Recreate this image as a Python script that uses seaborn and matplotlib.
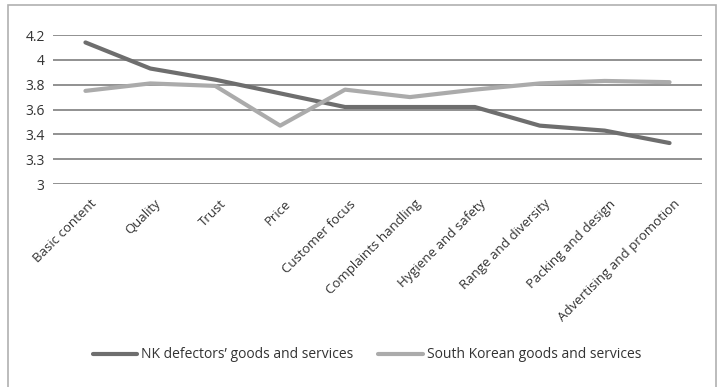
import matplotlib
matplotlib.use("Agg")
import matplotlib.pyplot as plt
import matplotlib.transforms as mtransforms
import seaborn as sns
import pandas as pd
from matplotlib.patches import Rectangle

categories = ["Basic content", "Quality", "Trust", "Price", "Customer focus",
              "Complaints handling", "Hygiene and safety", "Range and diversity",
              "Packing and design", "Advertising and promotion"]
nk_values = [4.14, 3.93, 3.84, 3.73, 3.62, 3.62, 3.62, 3.47, 3.43, 3.33]
sk_values = [3.75, 3.81, 3.79, 3.47, 3.76, 3.70, 3.76, 3.81, 3.83, 3.82]
series_names = ["NK defectors\u2019 goods and services", "South Korean goods and services"]
y_ticks = [3.0, 3.2, 3.4, 3.6, 3.8, 4.0, 4.2]
y_tick_labels = ["3", "3.3", "3.4", "3.6", "3.8", "4", "4.2"]

sns.set_theme(style="white")
plt.rcParams['font.family'] = ['Open Sans', 'DejaVu Sans']

df = pd.DataFrame({
    "cat": categories * 2,
    "x": list(range(len(categories))) * 2,
    "value": nk_values + sk_values,
    "series": [series_names[0]] * len(categories) + [series_names[1]] * len(categories),
})

fig = plt.figure(figsize=(7.18, 3.87), dpi=100)
ax = fig.add_axes([53/718, 1-184/387, (702-53)/718, (184-35)/387])

sns.lineplot(data=df, x="x", y="value", hue="series", ax=ax,
             palette=["#6e6e6e", "#ababab"], linewidth=3.0, legend=True,
             sort=False)

ax.set_xlim(-0.5, len(categories) - 0.5)
ax.set_ylim(3.0, 4.2)
ax.set_yticks(y_ticks)
ax.set_yticklabels(y_tick_labels, fontsize=10, color="#333333")
ax.set_xticks(range(len(categories)))
ax.set_xticklabels(categories, rotation=45, ha="right", rotation_mode="anchor",
                   fontsize=9.5, color="#333333")
ax.tick_params(axis="both", length=0, pad=6)
offset = mtransforms.ScaledTranslation(4/100, -5/100, fig.dpi_scale_trans)
for lbl in ax.get_xticklabels():
    lbl.set_transform(lbl.get_transform() + offset)
ax.set_xlabel("")
ax.set_ylabel("")
for s in ax.spines.values():
    s.set_visible(False)
ax.yaxis.grid(True, color="#888888", linewidth=1.3)
ax.set_axisbelow(True)

leg = ax.legend(loc="center", bbox_to_anchor=(367/718, 1-355/387), bbox_transform=fig.transFigure,
                ncol=2, frameon=False, fontsize=10, handlelength=3.2, columnspacing=1.8,
                handletextpad=0.3)
for t in leg.get_texts():
    t.set_color("#333333")
for l in leg.get_lines():
    l.set_linewidth(3.0)

fig.patches.append(Rectangle((8/718, -0.05), (716-8)/718, 1.05-5/387,
                             transform=fig.transFigure, fill=False,
                             edgecolor="#b0b0b0", linewidth=1.2))

fig.savefig("out.png", dpi=100)
